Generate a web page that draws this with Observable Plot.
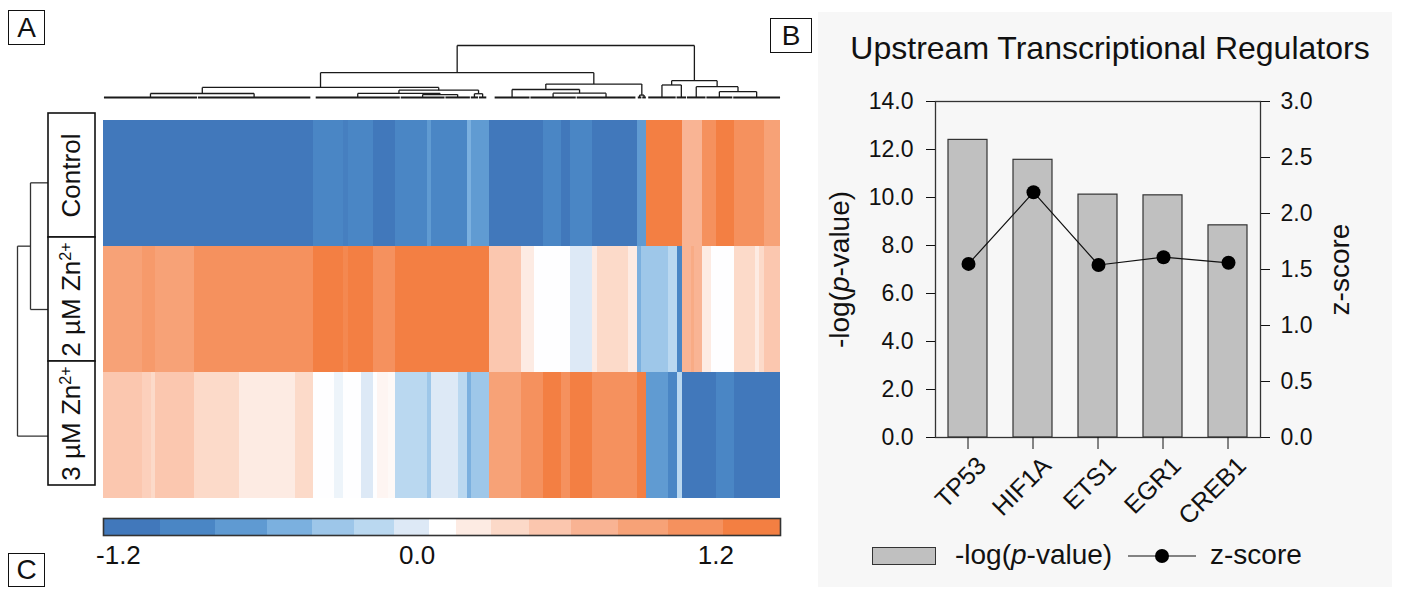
<!DOCTYPE html>
<html>
<head>
<meta charset="utf-8">
<script src="https://cdn.jsdelivr.net/npm/d3@7"></script>
<script src="https://cdn.jsdelivr.net/npm/@observablehq/plot@0.6"></script>
<style>
  html, body { margin: 0; padding: 0; background: #fff; }
  #wrap { position: relative; width: 1404px; height: 590px; overflow: hidden;
          font-family: "Liberation Sans", Arial, sans-serif; color: #111; }
  #wrap svg { position: absolute; left: 0; top: 0; }
  .panelbg { position: absolute; left: 818px; top: 12px; width: 574px; height: 575px; background: #f7f7f7; }
  .letter { position: absolute; border: 1.5px solid #111; box-sizing: border-box; background: #fff;
            font-size: 28px; line-height: 1; text-align: center; display: flex; align-items: center; justify-content: center; }
  .title { position: absolute; left: 800px; width: 620px; top: 32px; text-align: center; font-size: 32px; line-height: 32px; white-space: nowrap; }
  .legend { position: absolute; left: 0; top: 0; font-size: 28px; line-height: 1; white-space: nowrap; }
</style>
</head>
<body>
<div id="wrap"></div>
<script>
// ---------------- DATA ----------------
// Panel A: heatmap (blocks of genes in dendrogram order)
const rowLabels = ["Control", "2 µM Zn²⁺", "3 µM Zn²⁺"];
const blockGeneCounts = [26,6,3,26,30,38,12,14,6,3,9,8,3,7,5,21,3,18,6,3,12,21,9,6,12,6,15,3,21,6,3,3,15,6,3,6,2,6,6,3,12,14,3,3,11];
const controlValues = [-1.15,-1.15,-1.15,-1.15,-1.15,-1.15,-1.15,-0.92,-0.92,-1.03,-0.92,-0.92,-1.15,-1.15,-1.15,-0.92,-0.70,-0.92,-0.92,-0.51,-0.70,-1.15,-1.15,-1.15,-0.92,-1.15,-0.92,-1.15,-1.15,-1.15,-0.70,-0.70,1.34,1.34,1.34,0.71,0.71,0.71,1.12,1.12,1.34,1.12,1.12,1.12,0.91];
const zn2Values = [0.91,1.01,1.01,0.91,1.12,1.12,1.12,1.34,1.34,1.23,1.34,1.34,1.12,1.12,1.12,1.34,1.34,1.34,1.34,1.34,1.34,0.53,0.23,0.10,0.10,0.10,-0.02,0.23,0.37,0.23,-0.51,-0.33,-0.33,-0.17,-0.92,0.71,0.81,0.71,0.23,0.10,0.10,0.37,0.23,0.37,0.53];
const zn3Values = [0.53,0.45,0.37,0.53,0.37,0.23,0.37,0.10,0.04,0.10,0.10,-0.02,0.10,0.165,0.14,-0.17,-0.33,-0.02,-0.17,-0.51,-0.33,0.91,1.12,1.12,1.34,1.12,1.34,1.12,1.12,1.12,1.34,1.34,-0.70,-0.92,-0.17,-1.15,-1.15,-1.15,-1.15,-1.15,-0.92,-1.15,-1.15,-1.15,-1.15];

// Column dendrogram: internal node = [height, left, right]; leaf cluster = [firstGene, lastGene]
const colTree = [10,
  [4.87,
    [2.09, [0.94, [0, 63], [63, 139]],
           [1.58, [0.95, [142, 199], [0.75, [199, 229], [229, 246]]], [0.9, [246, 251.5], [251.5, 257]]]],
    [2.72, [1.7, [262, 286], [1.0, [286, 317], [317, 357]]], [0.64, [358, 361], [361, 364]]]],
  [3.36,
    [2.55, [365, 384], [384, 391]],
    [2.23, [391, 404], [1.28, [404, 422], [422, 454]]]]];
// Row dendrogram: leaves are row indices
const rowTree = [1.65, 0, [1.0, 1, 2]];

// Color key
const colorbarEdges = [-1.26,-1.03,-0.81,-0.60,-0.42,-0.25,-0.09,0.05,0.16,0.30,0.45,0.62,0.81,1.01,1.23,1.46];
const colorbarColors = ["#4178bb","#4a86c5","#5f9ad2","#7bb0df","#9dc6e9","#bad8f0","#dde9f6","#ffffff",
                        "#fdebe3","#fcd9c8","#fbc6ae","#f9b393","#f7a277","#f5915e","#f37f42"];
const colorbarTicks = [-1.2, 0.0, 1.2];

// Panel B
const regulators = ["TP53", "HIF1A", "ETS1", "EGR1", "CREB1"];
const negLogP = [12.40, 11.57, 10.12, 10.09, 8.84];
const zScores = [1.55, 2.19, 1.54, 1.61, 1.56];
const pTicks = [0, 2, 4, 6, 8, 10, 12, 14];
const zTicks = [0, 0.5, 1.0, 1.5, 2.0, 2.5, 3.0];

// ---------------- BUILD ----------------
const W = 1404, H = 590;
const FONT = "Liberation Sans, Arial, Helvetica, sans-serif";
const wrap = document.getElementById("wrap");
const svgStyle = {background: "transparent", fontFamily: FONT, overflow: "visible", color: "#111"};

const nGenes = d3.sum(blockGeneCounts);
const binCenters = colorbarColors.map((c, i) => (colorbarEdges[i] + colorbarEdges[i + 1]) / 2);
const colorOpts = {type: "linear", domain: binCenters, range: colorbarColors, clamp: true};

// heatmap cells
const seriesByRow = [controlValues, zn2Values, zn3Values];
const cells = [];
let start = 0;
blockGeneCounts.forEach((n, i) => {
  rowLabels.forEach((r, j) => cells.push({row: r, g0: start, g1: start + n, value: seriesByRow[j][i]}));
  start += n;
});

const hmLeft = 103, hmRight = 780, hmTop = 119, hmBottom = 499;

wrap.insertAdjacentHTML("beforeend", `<div class="panelbg"></div>`);

// Heatmap
wrap.append(Plot.plot({
  width: W, height: H, style: svgStyle,
  marginLeft: hmLeft, marginRight: W - hmRight, marginTop: hmTop, marginBottom: H - hmBottom,
  x: {domain: [0, nGenes], axis: null},
  y: {domain: rowLabels, padding: 0, axis: null},
  color: colorOpts,
  marks: [
    Plot.barX(cells, {x1: "g0", x2: "g1", y: "row", fill: "value", shapeRendering: "crispEdges"})
  ]
}));

// Column dendrogram
function layoutCol(node, segs, leaves) {
  if (node.length === 2) {
    leaves.push({x1: node[0] + 0.3, x2: node[1] - 0.3, h: 0.2});
    return {x: (node[0] + node[1]) / 2, h: 0.2};
  }
  const [h, L, R] = node;
  const l = layoutCol(L, segs, leaves), r = layoutCol(R, segs, leaves);
  segs.push({x1: l.x, y1: l.h, x2: l.x, y2: h});
  segs.push({x1: r.x, y1: r.h, x2: r.x, y2: h});
  segs.push({x1: l.x, y1: h, x2: r.x, y2: h});
  return {x: (l.x + r.x) / 2, h};
}
const colSegs = [], colLeaves = [];
layoutCol(colTree, colSegs, colLeaves);
wrap.append(Plot.plot({
  width: W, height: H, style: svgStyle,
  marginLeft: hmLeft, marginRight: W - hmRight, marginTop: 45, marginBottom: H - 98,
  x: {domain: [0, nGenes], axis: null},
  y: {domain: [0, 10], axis: null},
  marks: [
    Plot.link(colSegs, {x1: "x1", y1: "y1", x2: "x2", y2: "y2", stroke: "#1a1a1a", strokeWidth: 1.3}),
    Plot.link(colLeaves, {x1: "x1", y1: "h", x2: "x2", y2: "h", stroke: "#1a1a1a", strokeWidth: 2})
  ]
}));

// Row dendrogram (leaves at the heatmap row centres)
function layoutRow(node, segs) {
  if (typeof node === "number") return {y: node, h: 0};
  const [h, A, B] = node;
  const a = layoutRow(A, segs), b = layoutRow(B, segs);
  segs.push({x1: a.h, y1: a.y, x2: h, y2: a.y});
  segs.push({x1: b.h, y1: b.y, x2: h, y2: b.y});
  segs.push({x1: h, y1: a.y, x2: h, y2: b.y});
  return {y: (a.y + b.y) / 2, h};
}
const rowSegs = [];
layoutRow(rowTree, rowSegs);
const rowStep = (hmBottom - hmTop) / rowLabels.length;
wrap.append(Plot.plot({
  width: W, height: H, style: svgStyle,
  marginLeft: 17, marginRight: W - 50,
  marginTop: hmTop + rowStep / 2, marginBottom: H - (hmBottom - rowStep / 2),
  x: {domain: [1.65, 0], axis: null},
  y: {domain: [0, rowLabels.length - 1], axis: null},
  marks: [
    Plot.link(rowSegs, {x1: "x1", y1: "y1", x2: "x2", y2: "y2", stroke: "#333", strokeWidth: 1.3})
  ]
}));

// Row label boxes
wrap.append(Plot.plot({
  width: W, height: H, style: svgStyle,
  marginLeft: 48, marginRight: W - 95, marginTop: 112, marginBottom: H - 486,
  x: {domain: ["label"], padding: 0, axis: null},
  y: {domain: rowLabels, padding: 0, axis: null},
  marks: [
    Plot.cell(rowLabels, {x: () => "label", y: d => d, fill: "white", stroke: "#111", strokeWidth: 1.6}),
    Plot.text(rowLabels, {x: () => "label", y: d => d, text: d => d, rotate: -90, fontSize: 26, fill: "#111"})
  ]
}));

// Color key
const keyBins = colorbarColors.map((c, i) => ({x1: colorbarEdges[i], x2: colorbarEdges[i + 1], v: binCenters[i]}));
wrap.append(Plot.plot({
  width: W, height: H, style: svgStyle,
  marginLeft: hmLeft, marginRight: W - hmRight, marginTop: 518, marginBottom: H - 535,
  x: {domain: [colorbarEdges[0], colorbarEdges[colorbarEdges.length - 1]]},
  color: colorOpts,
  marks: [
    Plot.rect(keyBins, {x1: "x1", x2: "x2", fill: "v", shapeRendering: "crispEdges"}),
    Plot.frame({stroke: "#333", strokeWidth: 1.6}),
    Plot.axisX({ticks: colorbarTicks, tickFormat: d => d.toFixed(1), tickSize: 0, tickPadding: 10, fontSize: 26, label: null})
  ]
}));

// Panel B: bars with left axis
const bLeft = 935, bRight = 1260, bTop = 101, bBottom = 437;
const regData = regulators.map((g, i) => ({g, p: negLogP[i], z: zScores[i]}));
wrap.append(Plot.plot({
  width: W, height: H, style: svgStyle,
  marginLeft: bLeft, marginRight: W - bRight, marginTop: bTop, marginBottom: H - bBottom,
  x: {domain: regulators, paddingInner: 0.4, paddingOuter: 0.2},
  y: {domain: [0, 14]},
  marks: [
    Plot.barY(regData, {x: "g", y: "p", fill: "#c0c0c0", stroke: "#333", strokeWidth: 1.2}),
    Plot.frame({stroke: "#333", strokeWidth: 1.3}),
    Plot.axisY({ticks: pTicks, tickFormat: d => d.toFixed(1), tickSize: 9, tickPadding: 13, fontSize: 23, label: null}),
    Plot.axisX({tickSize: 12, tickFormat: () => "", label: null}),
    Plot.axisX({tickSize: 0, tickRotate: -45, tickPadding: 16, fontSize: 25, dx: 14, dy: 8, label: null}),
    Plot.text(["-log(p-value)"], {frameAnchor: "left", textAnchor: "middle", dx: -95, rotate: -90, fontSize: 28, fill: "#111"})
  ]
}));

// Panel B: z-score line with right axis
wrap.append(Plot.plot({
  width: W, height: H, style: svgStyle,
  marginLeft: bLeft, marginRight: W - bRight, marginTop: bTop, marginBottom: H - bBottom,
  x: {domain: regulators, paddingInner: 0.4, paddingOuter: 0.2, axis: null},
  y: {domain: [0, 3]},
  marks: [
    Plot.line(regData, {x: "g", y: "z", stroke: "#111", strokeWidth: 1.2}),
    Plot.dot(regData, {x: "g", y: "z", r: 7, fill: "#000", stroke: "none"}),
    Plot.axisY({anchor: "right", ticks: zTicks, tickFormat: d => d.toFixed(1), tickSize: 9, tickPadding: 11, fontSize: 23, label: null}),
    Plot.text(["z-score"], {frameAnchor: "right", textAnchor: "middle", dx: 80, rotate: -90, fontSize: 28, fill: "#111"})
  ]
}));

// Title, letters, legend (HTML overlays)
wrap.insertAdjacentHTML("beforeend", `
  <div class="title">Upstream Transcriptional Regulators</div>
  <div class="letter" style="left:8px;top:10px;width:37px;height:35px;">A</div>
  <div class="letter" style="left:770px;top:18px;width:42px;height:35px;">B</div>
  <div class="letter" style="left:8px;top:553px;width:37px;height:34px;">C</div>
  <div class="legend" style="left:872px;top:547px;width:64px;height:18px;background:#c0c0c0;border:1.3px solid #333;box-sizing:border-box;"></div>
  <div class="legend" style="left:955px;top:541px;">-log(<i>p</i>-value)</div>
  <svg width="80" height="30" style="left:1124px;top:541px;"><line x1="4" y1="15" x2="72" y2="15" stroke="#111" stroke-width="1.2"/><circle cx="38" cy="15" r="7" fill="#000"/></svg>
  <div class="legend" style="left:1210px;top:541px;">z-score</div>
`);

// Post-process: italic p in axis title, superscript charges in row labels
d3.select(wrap).selectAll("text").each(function () {
  const t = this.textContent;
  if (t === "-log(p-value)") {
    const s = d3.select(this); s.text(null);
    s.append("tspan").text("-log(");
    s.append("tspan").attr("font-style", "italic").text("p");
    s.append("tspan").text("-value)");
  } else if (t.endsWith("Zn²⁺")) {
    const s = d3.select(this); s.text(null);
    s.append("tspan").text(t.slice(0, -2));
    s.append("tspan").attr("dy", "-0.55em").attr("font-size", "0.62em").text("2+");
  }
});
</script>
</body>
</html>
